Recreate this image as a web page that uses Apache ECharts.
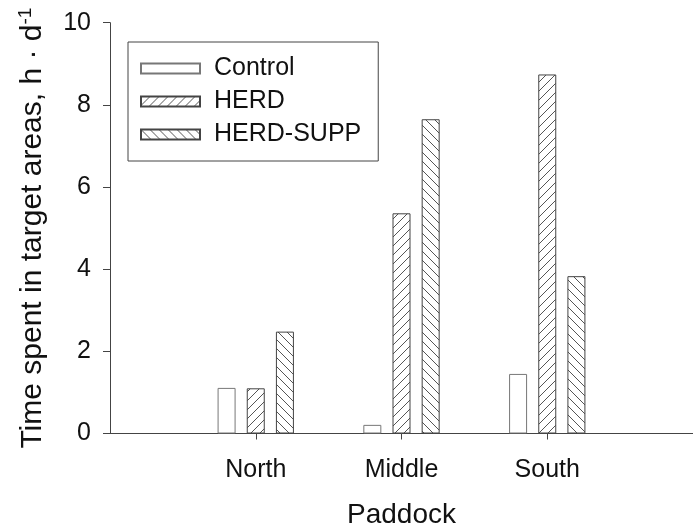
<!DOCTYPE html>
<html>
<head>
<meta charset="utf-8">
<script src="https://cdn.jsdelivr.net/npm/echarts@6/dist/echarts.min.js"></script>
<style>
html,body{margin:0;padding:0;background:#fff;}
#chart{width:693px;height:525px;}
</style>
</head>
<body>
<div id="chart"></div>
<script>
// ---- data ----
const categories = ['North', 'Middle', 'South'];
const controlValues = [1.11, 0.21, 1.45];
const herdValues = [1.10, 5.36, 8.74];
const herdSuppValues = [2.48, 7.65, 3.83];
const seriesNames = ['Control', 'HERD', 'HERD-SUPP'];
const yTicks = [0, 2, 4, 6, 8, 10];

const FONT = '"Liberation Sans", Arial, sans-serif';

function hatch(dir) {
  const s = 9;
  const c = document.createElement('canvas');
  c.width = s; c.height = s;
  const ctx = c.getContext('2d');
  ctx.fillStyle = '#ffffff';
  ctx.fillRect(0, 0, s, s);
  ctx.strokeStyle = '#555555';
  ctx.lineWidth = 1;
  ctx.beginPath();
  for (let k = -1; k <= 1; k++) {
    if (dir === '/') {
      ctx.moveTo(-1 + k * s, s + 1);
      ctx.lineTo(s + 1 + k * s, -1);
    } else {
      ctx.moveTo(-1 + k * s, -1);
      ctx.lineTo(s + 1 + k * s, s + 1);
    }
  }
  ctx.stroke();
  return { image: c, repeat: 'repeat' };
}

// pad an empty slot at each end so the categories sit at 1,2,3 of [0,4]
const axisCats = [''].concat(categories, ['']);
const pad = arr => [null].concat(arr, [null]);

const chart = echarts.init(document.getElementById('chart'), null, { renderer: 'canvas' });
chart.setOption({
  animation: false,
  backgroundColor: '#ffffff',
  grid: { left: 110, right: 0, top: 22.7, bottom: 91.5, containLabel: false, outerBoundsMode: 'none' },
  legend: {
    data: seriesNames,
    orient: 'vertical',
    left: 128, top: 42,
    icon: 'rect',
    itemWidth: 59, itemHeight: 10,
    itemGap: 8,
    padding: [14, 17, 14, 12],
    borderColor: '#444', borderWidth: 1,
    textStyle: { fontSize: 25, fontFamily: FONT, color: '#111', padding: [0, 0, 0, 9] },
    selectedMode: false
  },
  xAxis: {
    type: 'category',
    data: axisCats,
    boundaryGap: false,
    name: 'Paddock',
    nameLocation: 'middle',
    nameGap: 68,
    nameTextStyle: { fontSize: 28, fontFamily: FONT, color: '#111' },
    axisLine: { lineStyle: { color: '#444', width: 1 } },
    axisTick: { show: true, length: 6, inside: false, interval: (i) => i >= 1 && i <= categories.length, lineStyle: { color: '#444' } },
    axisLabel: { interval: 0, margin: 24, fontSize: 25, fontFamily: FONT, color: '#111' },
    splitLine: { show: false }
  },
  yAxis: {
    type: 'value',
    min: yTicks[0], max: yTicks[yTicks.length - 1], interval: 2,
    name: 'Time spent in target areas, h · d{sup|-1}',
    nameLocation: 'middle',
    nameRotate: 90,
    nameGap: 60,
    nameTextStyle: {
      fontSize: 30, fontFamily: FONT, color: '#111',
      rich: { sup: { fontSize: 19, fontFamily: FONT, color: '#111', verticalAlign: 'top', lineHeight: 34 } }
    },
    axisLine: { show: true, lineStyle: { color: '#444', width: 1 } },
    axisTick: { show: true, length: 7, inside: false, lineStyle: { color: '#444' } },
    axisLabel: { margin: 19, fontSize: 25, fontFamily: FONT, color: '#111' },
    splitLine: { show: false }
  },
  series: [
    {
      name: seriesNames[0], type: 'bar', data: pad(controlValues),
      barWidth: 18, barGap: '62%',
      itemStyle: { color: '#ffffff', borderColor: '#777', borderWidth: 1 }
    },
    {
      name: seriesNames[1], type: 'bar', data: pad(herdValues),
      barWidth: 18, barGap: '62%',
      itemStyle: { color: hatch('/'), borderColor: '#444', borderWidth: 1 }
    },
    {
      name: seriesNames[2], type: 'bar', data: pad(herdSuppValues),
      barWidth: 18, barGap: '62%',
      itemStyle: { color: hatch('\\'), borderColor: '#444', borderWidth: 1 }
    }
  ]
});
</script>
</body>
</html>
